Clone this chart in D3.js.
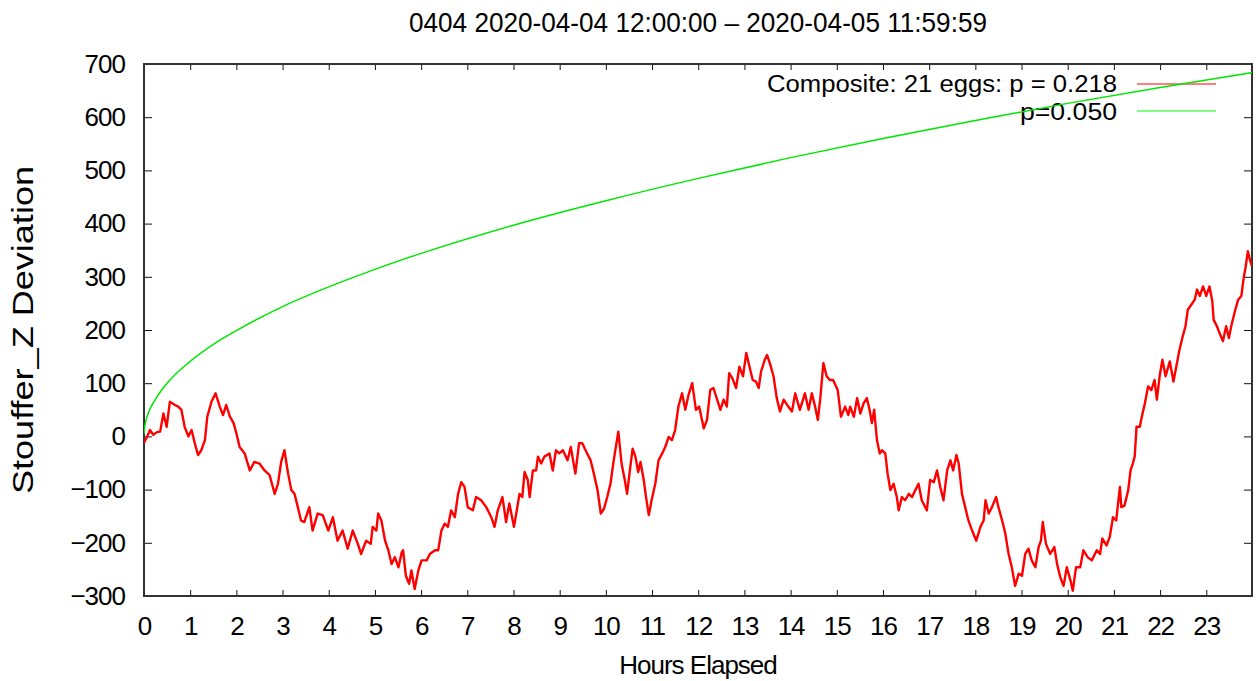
<!DOCTYPE html>
<html>
<head>
<meta charset="utf-8">
<script src="https://cdn.jsdelivr.net/npm/d3@7"></script>
<style>
body { margin: 0; background: #fff; }
svg { display: block; font-family: "Liberation Sans", Arial, sans-serif; }
</style>
</head>
<body>
<svg width="1256" height="681"></svg>
<script>
// labels
const title = "0404 2020-04-04 12:00:00 \u2013 2020-04-05 11:59:59";
const xLabel = "Hours Elapsed";
const yLabel = "Stouffer_Z Deviation";
const legendLabels = ["Composite: 21 eggs: p = 0.218", "p=0.050"];

// tick values
const hourTicks = [0, 1, 2, 3, 4, 5, 6, 7, 8, 9, 10, 11, 12, 13, 14, 15, 16, 17, 18, 19, 20, 21, 22, 23];
const devTicks = [-300, -200, -100, 0, 100, 200, 300, 400, 500, 600, 700];

// cumulative deviation, [hours elapsed, value]
const composite = [
    [0, -12], [0.06, -2], [0.13, 12], [0.2, 3], [0.28, 8], [0.35, 9], [0.42, 43], [0.49, 18], [0.56, 65],
    [0.67, 59], [0.74, 56], [0.81, 50], [0.88, 18], [0.96, 0], [1.03, 12], [1.1, -13], [1.17, -35], [1.24, -26],
    [1.32, -7], [1.37, 37], [1.46, 65], [1.55, 81], [1.64, 56], [1.71, 40], [1.78, 59], [1.86, 37], [1.94, 25],
    [2.0, 6], [2.07, -20], [2.18, -32], [2.29, -64], [2.39, -48], [2.5, -51], [2.61, -64], [2.72, -73], [2.83, -108],
    [2.9, -89], [2.97, -48], [3.04, -26], [3.12, -70], [3.19, -101], [3.26, -108], [3.33, -133], [3.4, -158],
    [3.47, -161], [3.58, -133], [3.65, -177], [3.76, -145], [3.87, -148], [3.99, -177], [4.09, -152], [4.19, -196],
    [4.3, -177], [4.41, -211], [4.52, -177], [4.63, -202], [4.7, -221], [4.81, -196], [4.91, -202], [4.95, -170],
    [5.03, -177], [5.07, -145], [5.14, -158], [5.22, -196], [5.29, -214], [5.36, -240], [5.43, -227], [5.51, -246],
    [5.58, -218], [5.61, -214], [5.67, -262], [5.74, -277], [5.79, -252], [5.86, -287], [5.94, -252], [6.01, -233],
    [6.12, -233], [6.19, -221], [6.3, -214], [6.37, -214], [6.44, -177], [6.51, -164], [6.58, -170], [6.65, -139],
    [6.73, -152], [6.8, -108], [6.87, -86], [6.94, -95], [7.01, -133], [7.12, -139], [7.19, -114], [7.3, -120],
    [7.41, -133], [7.52, -152], [7.59, -170], [7.66, -139], [7.76, -114], [7.84, -161], [7.91, -126], [8.01, -170],
    [8.06, -145], [8.13, -108], [8.19, -114], [8.24, -67], [8.31, -82], [8.35, -114], [8.42, -64], [8.49, -64],
    [8.53, -38], [8.6, -51], [8.67, -38], [8.78, -32], [8.85, -64], [8.92, -26], [8.99, -32], [9.07, -26],
    [9.17, -45], [9.24, -20], [9.34, -70], [9.42, -13], [9.49, -13], [9.56, -26], [9.67, -45], [9.74, -70],
    [9.82, -101], [9.89, -145], [9.96, -136], [10.03, -114], [10.1, -89], [10.17, -45], [10.27, 9], [10.34, -51],
    [10.41, -82], [10.46, -108], [10.52, -64], [10.58, -23], [10.64, -38], [10.7, -67], [10.75, -48], [10.82, -82],
    [10.87, -114], [10.93, -148], [10.99, -120], [11.07, -89], [11.14, -45], [11.22, -32], [11.29, -19], [11.36, -1],
    [11.43, -7], [11.5, 12], [11.57, 56], [11.65, 81], [11.72, 50], [11.79, 78], [11.87, 100], [11.95, 50],
    [12.02, 56], [12.12, 15], [12.19, 31], [12.26, 87], [12.33, 91], [12.41, 69], [12.48, 50], [12.55, 69],
    [12.62, 56], [12.67, 119], [12.74, 109], [12.82, 91], [12.89, 131], [12.97, 113], [13.04, 157], [13.11, 131],
    [13.18, 106], [13.25, 103], [13.31, 91], [13.36, 122], [13.44, 144], [13.49, 153], [13.56, 135], [13.63, 113],
    [13.7, 72], [13.77, 47], [13.85, 69], [13.95, 56], [14.03, 47], [14.1, 81], [14.2, 50], [14.31, 81],
    [14.39, 50], [14.46, 81], [14.53, 56], [14.59, 31], [14.64, 69], [14.71, 138], [14.78, 113], [14.85, 106],
    [14.92, 106], [15.02, 87], [15.09, 37], [15.18, 56], [15.25, 40], [15.29, 56], [15.37, 37], [15.44, 72],
    [15.51, 43], [15.58, 62], [15.65, 72], [15.71, 50], [15.76, 25], [15.81, 50], [15.87, -7], [15.93, -32],
    [15.98, -26], [16.05, -32], [16.1, -70], [16.16, -101], [16.23, -89], [16.3, -114], [16.34, -139], [16.41, -114],
    [16.48, -120], [16.56, -108], [16.63, -114], [16.7, -101], [16.77, -89], [16.84, -120], [16.95, -139], [17.02, -82],
    [17.1, -86], [17.17, -64], [17.24, -95], [17.31, -120], [17.39, -64], [17.46, -45], [17.52, -64], [17.59, -35],
    [17.64, -51], [17.71, -108], [17.78, -133], [17.85, -158], [17.93, -177], [18.02, -196], [18.11, -170], [18.18, -158],
    [18.22, -120], [18.29, -145], [18.36, -133], [18.45, -114], [18.5, -133], [18.58, -158], [18.65, -183], [18.72, -221],
    [18.79, -246], [18.86, -281], [18.94, -258], [19.01, -262], [19.08, -221], [19.15, -211], [19.22, -233], [19.3, -246],
    [19.37, -208], [19.42, -196], [19.46, -161], [19.53, -202], [19.62, -221], [19.71, -208], [19.77, -240], [19.84, -265],
    [19.91, -281], [19.98, -246], [20.06, -271], [20.11, -290], [20.18, -246], [20.27, -246], [20.34, -214], [20.43, -227],
    [20.52, -233], [20.63, -214], [20.7, -221], [20.75, -192], [20.84, -205], [20.91, -189], [20.98, -152], [21.05, -158],
    [21.13, -95], [21.16, -133], [21.23, -130], [21.31, -101], [21.36, -64], [21.41, -51], [21.45, -38], [21.49, 18],
    [21.56, 18], [21.62, 43], [21.67, 62], [21.74, 94], [21.81, 87], [21.88, 106], [21.93, 69], [21.99, 113],
    [22.05, 144], [22.12, 113], [22.21, 141], [22.29, 103], [22.35, 131], [22.42, 163], [22.49, 188], [22.55, 207],
    [22.6, 238], [22.68, 248], [22.75, 257], [22.8, 276], [22.86, 264], [22.93, 282], [23.0, 264], [23.07, 282],
    [23.13, 254], [23.16, 219], [23.23, 207], [23.29, 194], [23.36, 179], [23.43, 207], [23.49, 185], [23.54, 207],
    [23.61, 232], [23.69, 257], [23.76, 264], [23.81, 298], [23.85, 317], [23.9, 348], [23.95, 330], [23.99, 320]
];

// p=0.050 envelope
const envHours = [0, 0.02, 0.1, 0.25, 0.5, 1, 1.5, 2, 3, 4, 5, 6, 8, 10, 12, 14, 16, 18, 20, 22, 23.99];
const envValues = [5, 20, 45, 70, 100, 141, 173, 199, 244, 281, 314, 344, 397, 443, 485, 524, 560, 594, 626, 656, 684];

let svg = d3.select("svg");
const plotLeft = 144, plotRight = 1252, plotTop = 64, plotBottom = 596;

const x = d3.scaleLinear().domain([0, 23.99]).range([plotLeft, plotRight]);
const y = d3.scaleLinear().domain([-300, 700]).range([plotBottom, plotTop]);

// title
svg.append("text")
    .attr("x", 698).attr("y", 32)
    .attr("text-anchor", "middle")
    .attr("font-size", 27)
    .attr("textLength", 578)
    .attr("lengthAdjust", "spacingAndGlyphs")
    .text(title);

// axes, ticks point inward like gnuplot
let xAxis = svg.append("g")
    .attr("transform", `translate(0,${plotBottom})`)
    .call(d3.axisBottom(x).tickValues(hourTicks).tickSize(-6).tickPadding(21));
let xTop = svg.append("g")
    .attr("transform", `translate(0,${plotTop})`)
    .call(d3.axisTop(x).tickValues(hourTicks).tickSize(-6).tickFormat(""));
let yAxis = svg.append("g")
    .attr("transform", `translate(${plotLeft},0)`)
    .call(d3.axisLeft(y).tickValues(devTicks).tickSize(-8).tickPadding(19));
let yRight = svg.append("g")
    .attr("transform", `translate(${plotRight},0)`)
    .call(d3.axisRight(y).tickValues(devTicks).tickSize(-8).tickFormat(""));

svg.selectAll(".domain").remove();
svg.selectAll(".tick line").attr("stroke", "#111");
svg.selectAll(".tick text")
    .attr("font-size", 26)
    .attr("font-family", "'Liberation Sans', Arial, sans-serif")
    .attr("letter-spacing", -1)
    .attr("fill", "#000");

// frame
svg.append("rect")
    .attr("x", plotLeft).attr("y", plotTop)
    .attr("width", plotRight - plotLeft).attr("height", plotBottom - plotTop)
    .attr("fill", "none")
    .attr("stroke", "#333")
    .attr("stroke-width", 2);

// axis titles
svg.append("text")
    .attr("x", 698).attr("y", 674)
    .attr("text-anchor", "middle")
    .attr("font-size", 26)
    .attr("letter-spacing", -1)
    .text(xLabel);

svg.append("text")
    .attr("transform", "translate(33,330) rotate(-90)")
    .attr("text-anchor", "middle")
    .attr("font-size", 29)
    .attr("textLength", 328)
    .attr("lengthAdjust", "spacingAndGlyphs")
    .text(yLabel);

svg.append("clipPath").attr("id", "plotClip")
    .append("rect")
    .attr("x", plotLeft).attr("y", plotTop)
    .attr("width", plotRight - plotLeft).attr("height", plotBottom - plotTop);

let line = d3.line().x(d => x(d[0])).y(d => y(d[1]));

// legend key + red series
let legend = svg.append("g");
legend.append("text")
    .attr("x", 1117).attr("y", 92)
    .attr("text-anchor", "end")
    .attr("font-size", 23)
    .attr("textLength", 350)
    .attr("lengthAdjust", "spacingAndGlyphs")
    .text(legendLabels[0]);
legend.append("line")
    .attr("x1", 1137).attr("x2", 1216).attr("y1", 84).attr("y2", 84)
    .attr("stroke", "#ff0000").attr("stroke-opacity", 0.5).attr("stroke-width", 2);

svg.append("path")
    .datum(composite)
    .attr("clip-path", "url(#plotClip)")
    .attr("fill", "none")
    .attr("stroke", "#ff0000")
    .attr("stroke-width", 2.4)
    .attr("stroke-linejoin", "round")
    .attr("d", line);

// legend key + green envelope
legend.append("text")
    .attr("x", 1117).attr("y", 120)
    .attr("text-anchor", "end")
    .attr("font-size", 23)
    .attr("textLength", 97)
    .attr("lengthAdjust", "spacingAndGlyphs")
    .text(legendLabels[1]);
legend.append("line")
    .attr("x1", 1137).attr("x2", 1216).attr("y1", 111).attr("y2", 111)
    .attr("stroke", "#00ff00").attr("stroke-opacity", 0.5).attr("stroke-width", 2);

svg.append("path")
    .datum(d3.zip(envHours, envValues))
    .attr("clip-path", "url(#plotClip)")
    .attr("fill", "none")
    .attr("stroke", "#00e600")
    .attr("stroke-width", 1.5)
    .attr("d", line.curve(d3.curveMonotoneX));
</script>
</body>
</html>
